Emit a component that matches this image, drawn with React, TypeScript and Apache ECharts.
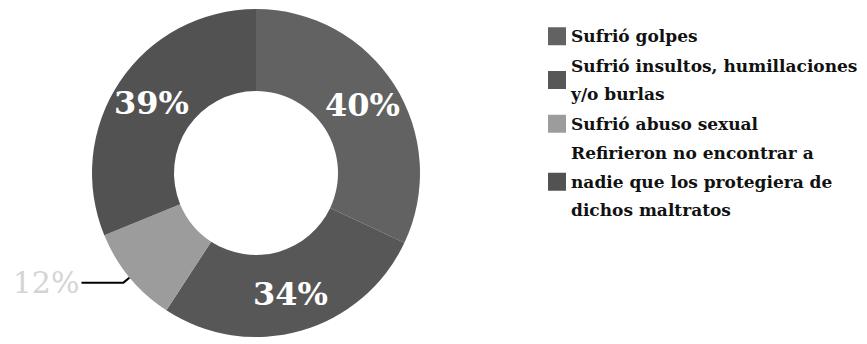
import React, { useEffect, useRef } from "react";
import * as echarts from "echarts";

const categories = [
  "Sufrió golpes",
  "Sufrió insultos, humillaciones\ny/o burlas",
  "Sufrió abuso sexual",
  "Refirieron no encontrar a\nnadie que los protegiera de\ndichos maltratos",
];
const values = [40, 34, 12, 39];
const colors = ["#626262", "#575757", "#9c9c9c", "#525252"];

export default function App() {
  const ref = useRef<HTMLDivElement>(null);
  useEffect(() => {
    if (!ref.current) return;
    const chart = echarts.init(ref.current, undefined, { renderer: "svg" });
    const serif = "DejaVu Serif";
    chart.setOption({
      animation: false,
      backgroundColor: "#ffffff",
      legend: {
        orient: "vertical",
        left: 543,
        top: 17,
        itemWidth: 18,
        itemHeight: 18,
        itemGap: 1,
        itemTextGap: 5,
        itemStyle: { borderWidth: 0 },
        icon: "rect",
        selectedMode: false,
        textStyle: {
          fontFamily: serif,
          fontSize: 17,
          fontWeight: "bold",
          color: "#111111",
          lineHeight: 28.5,
        },
        data: categories,
      },
      series: [
        {
          type: "pie",
          center: [256, 173],
          radius: [82, 164],
          startAngle: 90,
          clockwise: true,
          avoidLabelOverlap: false,
          label: {
            show: true,
            position: "inside",
            formatter: "{c}%",
            color: "#ffffff",
            fontFamily: serif,
            fontSize: 32,
            fontWeight: "bold",
          },
          labelLine: { show: false },
          data: categories.map((name, i) => {
            const item: any = {
              name,
              value: values[i],
              itemStyle: { color: colors[i] },
            };
            if (i === 2) {
              item.label = {
                show: true,
                position: "outside",
                color: "#d4d4d4",
                fontWeight: "normal",
                fontSize: 30,
                distanceToLabelLine: 2,
              };
              item.labelLine = {
                show: true,
                length: 8,
                length2: 42,
                lineStyle: { color: "#000000", width: 2 },
              };
            }
            return item;
          }),
        },
      ],
    });
    return () => chart.dispose();
  }, []);
  return (
    <div
      ref={ref}
      style={{ position: "fixed", left: 0, top: 0, width: 867, height: 344 }}
    />
  );
}
